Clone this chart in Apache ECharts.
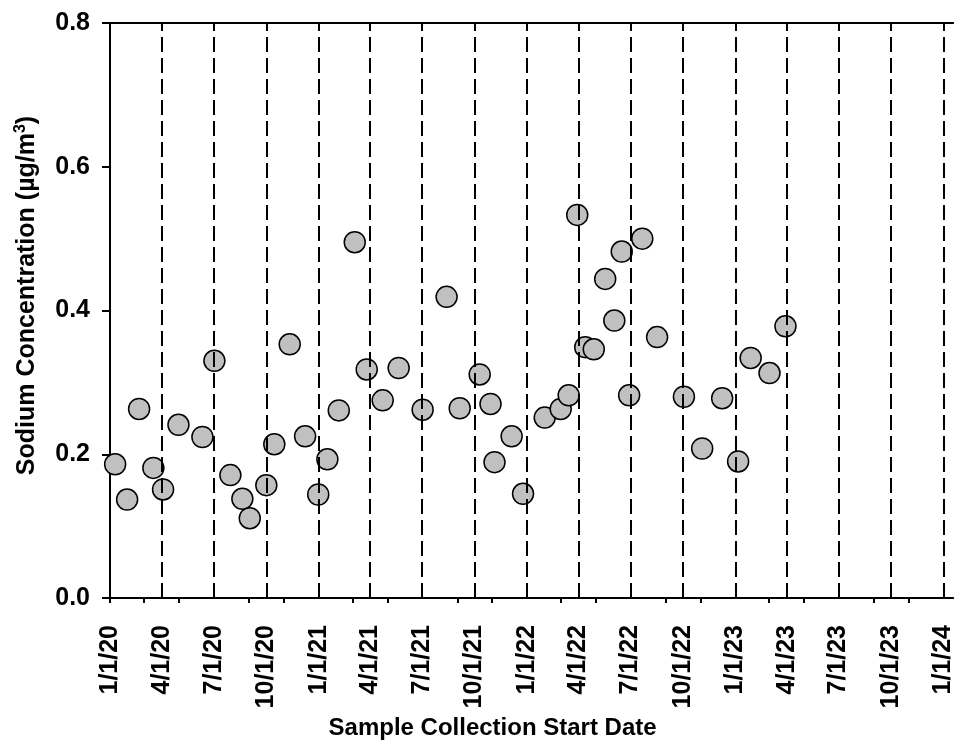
<!DOCTYPE html>
<html>
<head>
<meta charset="utf-8">
<script src="https://cdn.jsdelivr.net/npm/echarts@6/dist/echarts.min.js"></script>
<style>
  html, body { margin: 0; padding: 0; background: #fff; }
  #chart { width: 956px; height: 749px; }
</style>
</head>
<body>
<div id="chart"></div>
<script>
// Sample collection start dates (M/D/YY)
const sampleDates = [
  '1/10/20', '1/31/20', '2/21/20', '3/17/20', '4/3/20', '4/30/20', '6/11/20', '7/2/20',
  '7/30/20', '8/20/20', '9/2/20', '10/1/20', '10/15/20', '11/11/20', '12/8/20', '12/31/20',
  '1/16/21', '2/5/21', '3/5/21', '3/26/21', '4/23/21', '5/21/21', '7/2/21', '8/13/21',
  '9/5/21', '10/10/21', '10/29/21', '11/5/21', '12/5/21', '12/25/21',
  '2/1/22', '3/1/22', '3/15/22', '3/30/22', '4/13/22', '4/28/22', '5/18/22', '6/3/22',
  '6/16/22', '6/29/22', '7/22/22', '8/17/22', '10/3/22', '11/4/22', '12/9/22',
  '1/6/23', '1/28/23', '3/2/23', '3/30/23'
];
// Sodium concentration (µg/m³)
const sodiumValues = [
  0.186, 0.137, 0.263, 0.181, 0.151, 0.241, 0.224, 0.330,
  0.171, 0.138, 0.111, 0.157, 0.214, 0.353, 0.225, 0.144,
  0.193, 0.261, 0.495, 0.318, 0.275, 0.320, 0.262, 0.419,
  0.264, 0.311, 0.270, 0.189, 0.225, 0.145,
  0.251, 0.263, 0.282, 0.533, 0.349, 0.346, 0.444, 0.386,
  0.482, 0.282, 0.500, 0.363, 0.280, 0.208, 0.278,
  0.190, 0.334, 0.313, 0.378
];
// Quarterly tick labels (also dashed reference lines)
const quarterLabels = [
  '1/1/20', '4/1/20', '7/1/20', '10/1/20',
  '1/1/21', '4/1/21', '7/1/21', '10/1/21',
  '1/1/22', '4/1/22', '7/1/22', '10/1/22',
  '1/1/23', '4/1/23', '7/1/23', '10/1/23',
  '1/1/24'
];
// Small tick marks on the x axis
const minorTickDates = [
  '1/1/20', '3/1/20', '5/1/20', '9/1/20', '11/1/20',
  '3/1/21', '5/1/21', '9/1/21', '11/1/21',
  '3/1/22', '5/1/22', '9/1/22', '11/1/22',
  '3/1/23', '5/1/23', '9/1/23', '11/1/23'
];
const xMinDate = '1/1/20';
const xMaxDate = '1/18/24';
const yTicks = [0, 0.2, 0.4, 0.6, 0.8];

// Days since the start date (x axis works in days)
const ORIGIN = Date.UTC(2020, 0, 1);
function dayOf(s) {
  const p = s.split('/').map(Number);
  return Math.round((Date.UTC(2000 + p[2], p[0] - 1, p[1]) - ORIGIN) / 86400000);
}

const quarterVals = quarterLabels.map(dayOf);
const labelByVal = {};
quarterVals.forEach((v, i) => { labelByVal[v] = quarterLabels[i]; });
const points = sampleDates.map((d, i) => [dayOf(d), sodiumValues[i]]);

const FONT = 'Liberation Sans, Arial, sans-serif';
const textBase = { fontFamily: FONT, fontWeight: 'bold', fontSize: 25, color: '#000' };

const chart = echarts.init(document.getElementById('chart'), null, { renderer: 'canvas' });
chart.setOption({
  animation: false,
  backgroundColor: '#fff',
  grid: { left: 110, right: 1, top: 23, bottom: 151, containLabel: false },
  xAxis: [
    {
      type: 'value',
      min: dayOf(xMinDate),
      max: dayOf(xMaxDate),
      axisLine: { show: true, onZero: false, lineStyle: { color: '#000', width: 2 } },
      axisTick: {
        show: true, inside: false, length: 5,
        customValues: minorTickDates.map(dayOf),
        lineStyle: { color: '#000', width: 2 }
      },
      axisLabel: Object.assign({
        customValues: quarterVals,
        rotate: 90,
        margin: 27,
        hideOverlap: false,
        showMinLabel: true,
        showMaxLabel: true,
        formatter: function (v) { return labelByVal[v] || ''; }
      }, textBase),
      splitLine: { show: false },
      name: 'Sample Collection Start Date',
      nameLocation: 'middle',
      nameGap: 112,
      nameTextStyle: Object.assign({ padding: [0, 78, 0, 0] }, textBase, { fontSize: 24 })
    },
    {
      type: 'value',
      position: 'top',
      min: dayOf(xMinDate),
      max: dayOf(xMaxDate),
      axisLine: { show: true, onZero: false, lineStyle: { color: '#000', width: 2 } },
      axisTick: { show: false },
      axisLabel: { show: false },
      splitLine: { show: false }
    }
  ],
  yAxis: {
    type: 'value',
    min: yTicks[0],
    max: yTicks[yTicks.length - 1],
    interval: 0.2,
    axisLine: { show: true, onZero: false, lineStyle: { color: '#000', width: 2 } },
    axisTick: { show: true, inside: false, length: 8, lineStyle: { color: '#000', width: 2 } },
    axisLabel: Object.assign({
      margin: 20,
      formatter: function (v) { return v.toFixed(1); }
    }, textBase),
    splitLine: { show: false },
    name: 'Sodium Concentration (µg/m{sup|3})',
    nameLocation: 'middle',
    nameRotate: 90,
    nameGap: 69,
    nameTextStyle: Object.assign({
      padding: [0, 0, 0, 30],
      rich: {
        sup: { fontFamily: FONT, fontWeight: 'bold', fontSize: 16, color: '#000', verticalAlign: 'top', padding: [0, 0, 12, 0] }
      }
    }, textBase)
  },
  series: [
    {
      type: 'scatter',
      xAxisIndex: 0,
      data: [],
      z: 1,
      silent: true,
      markLine: {
        silent: true,
        symbol: ['none', 'none'],
        label: { show: false },
        lineStyle: { type: [15, 6], color: '#000', width: 2 },
        data: quarterVals.slice(1).map(function (t) { return { xAxis: t }; })
      }
    },
    {
      type: 'scatter',
      xAxisIndex: 0,
      z: 3,
      symbol: 'circle',
      symbolSize: 21,
      itemStyle: { color: '#c0c0c0', borderColor: '#000', borderWidth: 1.5, opacity: 1 },
      data: points
    }
  ]
});
</script>
</body>
</html>
